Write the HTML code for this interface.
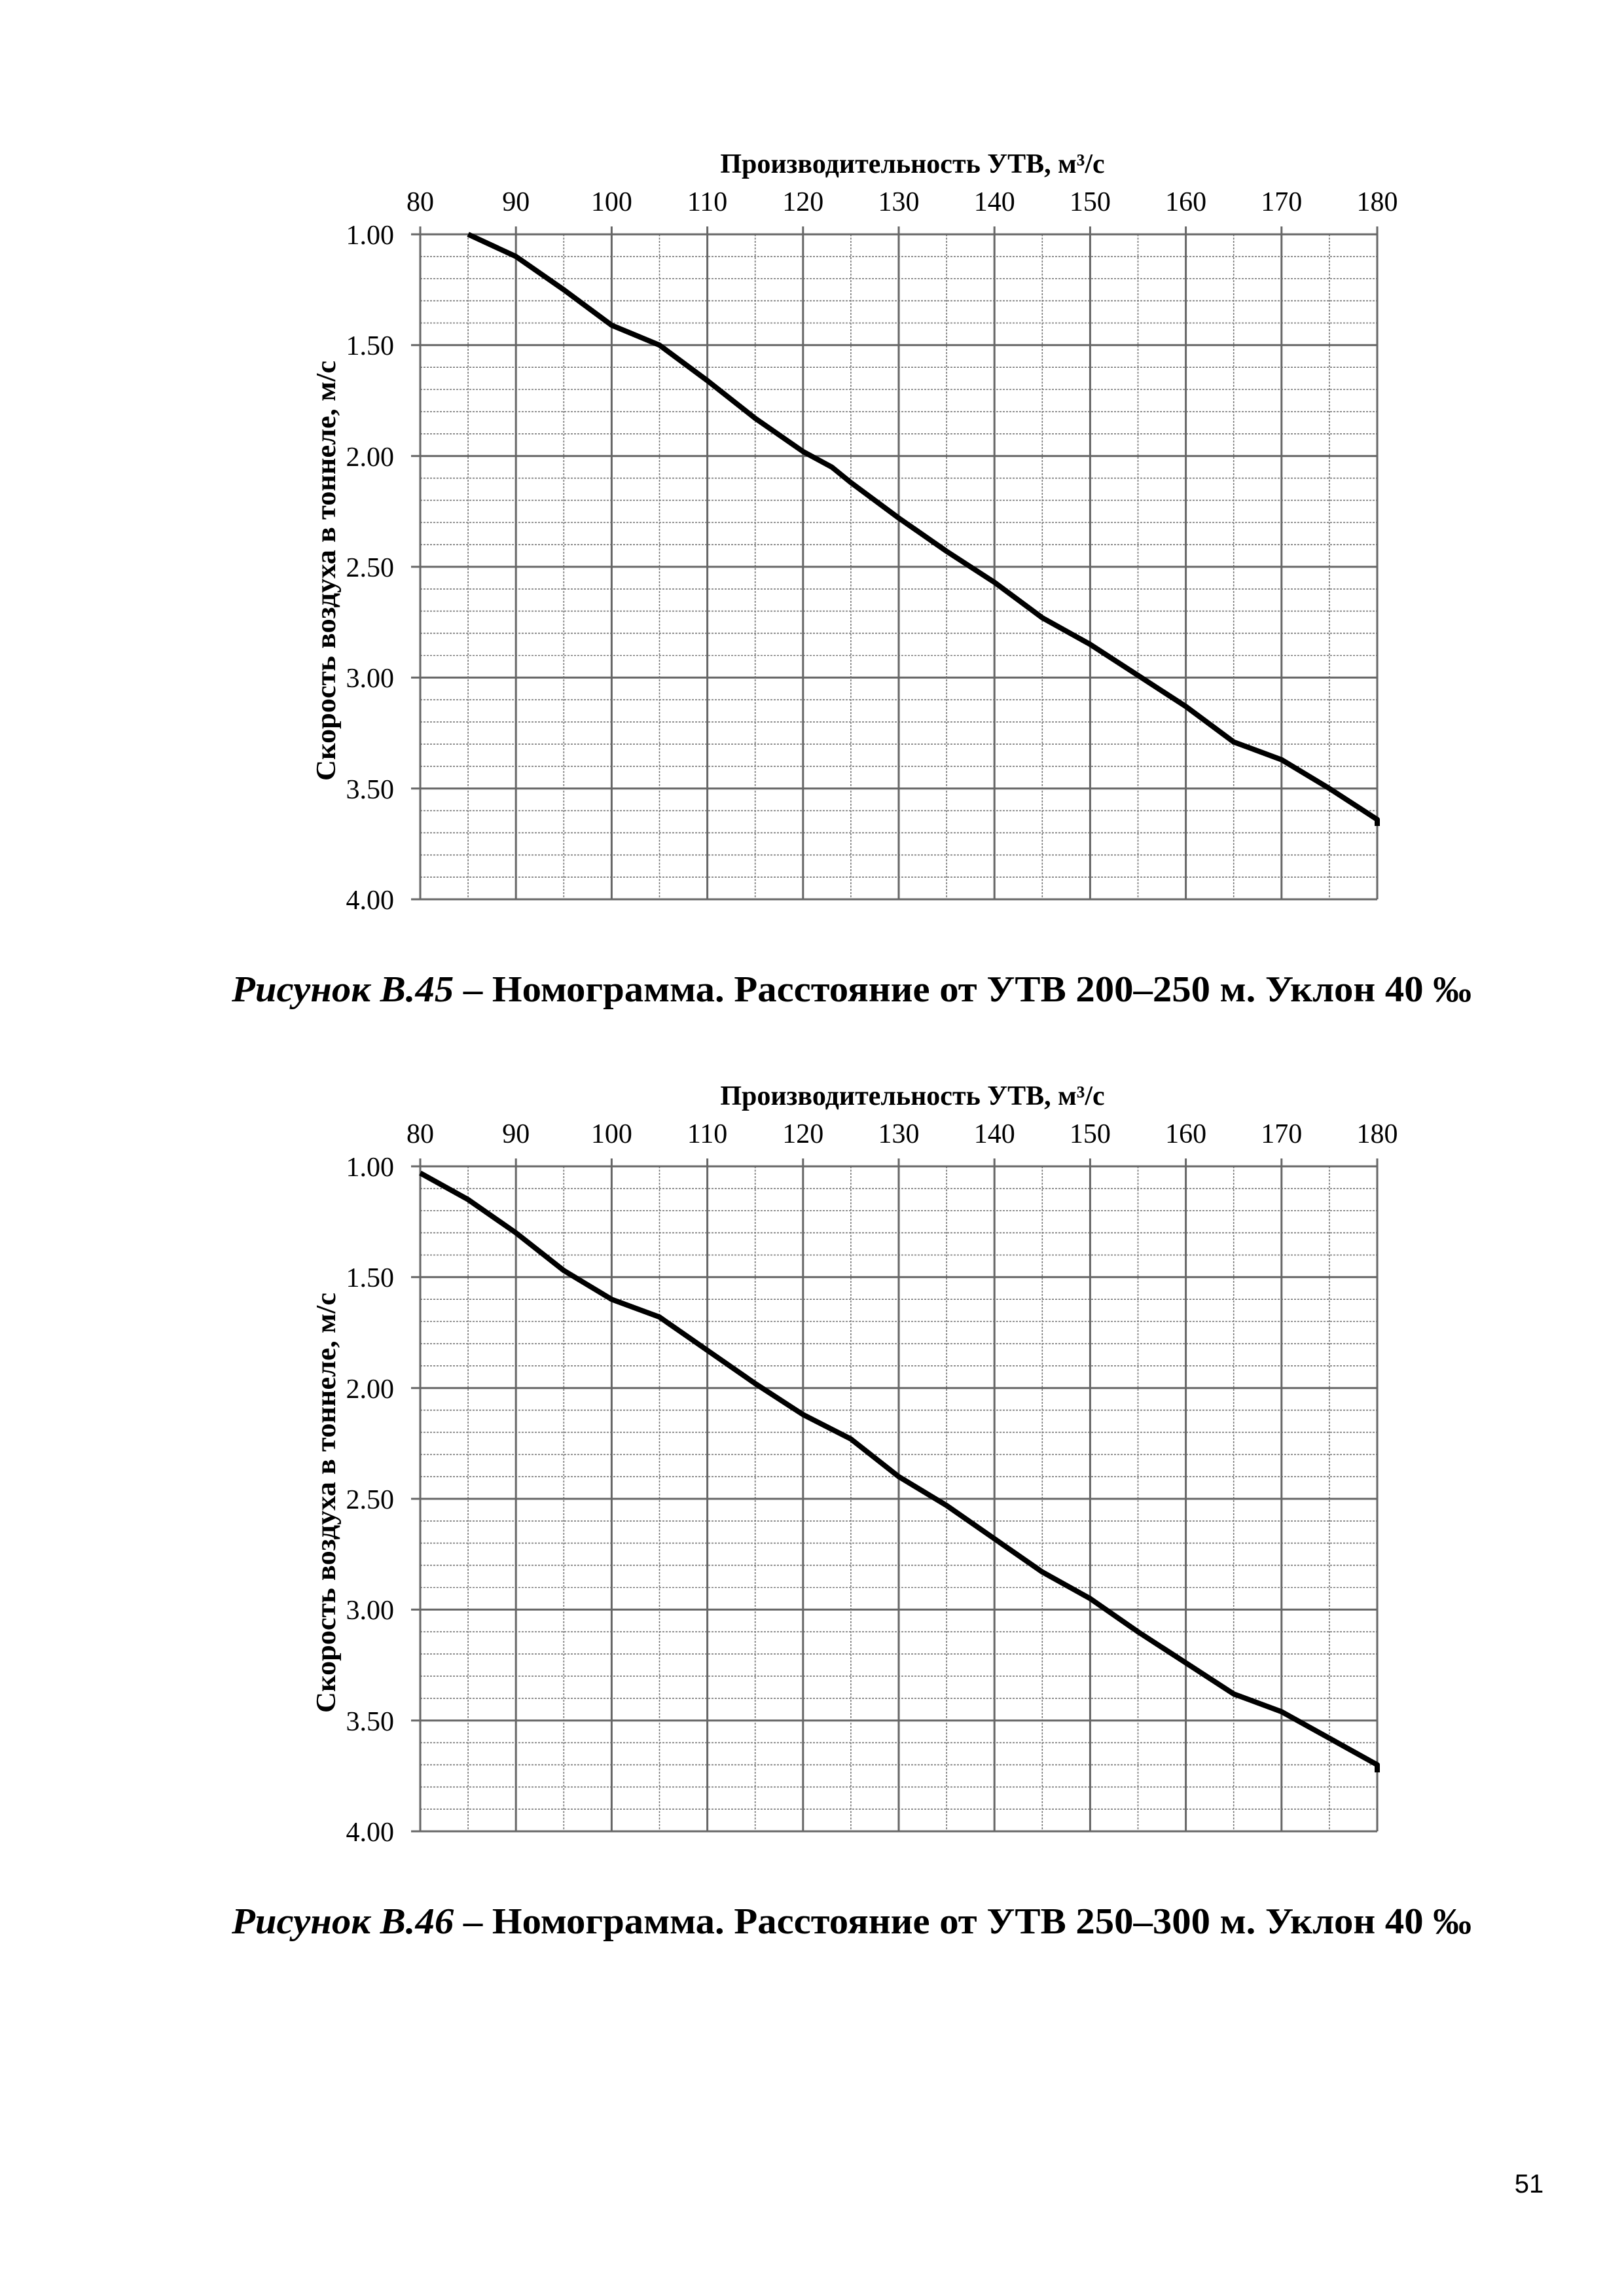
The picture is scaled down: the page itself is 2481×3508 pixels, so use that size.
<!DOCTYPE html>
<html><head><meta charset="utf-8"><style>
html,body{margin:0;padding:0;background:#fff}
svg{display:block}
</style></head><body>
<svg width="2481" height="3508" viewBox="0 0 2481 3508" xmlns="http://www.w3.org/2000/svg">
<rect width="2481" height="3508" fill="#fff"/>
<defs>
<g id="grid">
<path fill="none" stroke="#777" stroke-width="1.6" stroke-dasharray="3,2" d="M715.1 358V1374M861.3 358V1374M1007.5 358V1374M1153.7 358V1374M1299.9 358V1374M1446.1 358V1374M1592.3 358V1374M1738.5 358V1374M1884.7 358V1374M2030.9 358V1374
M642 391.9H2104M642 425.7H2104M642 459.6H2104M642 493.5H2104
M642 561.2H2104M642 595H2104M642 628.9H2104M642 662.8H2104
M642 730.6H2104M642 764.4H2104M642 798.3H2104M642 832.2H2104
M642 899.9H2104M642 933.7H2104M642 967.6H2104M642 1001.5H2104
M642 1069.2H2104M642 1103.1H2104M642 1136.9H2104M642 1170.8H2104
M642 1238.6H2104M642 1272.4H2104M642 1306.3H2104M642 1340.2H2104"/>
<path fill="none" stroke="#666" stroke-width="3" d="M642 346V1374M788.2 346V1374M934.4 346V1374M1080.6 346V1374M1226.8 346V1374M1373 346V1374M1519.2 346V1374M1665.4 346V1374M1811.6 346V1374M1957.8 346V1374M2104 346V1374
M628 358H2104M628 527.3H2104M628 696.7H2104M628 866H2104M628 1035.3H2104M628 1204.7H2104M628 1374H2104"/>
</g>
</defs>
<use href="#grid"/>
<use href="#grid" y="1424"/>

<g font-family="'Liberation Serif', serif" fill="#000">
<text x="1394" y="264" font-size="42" font-weight="bold" text-anchor="middle">Производительность УТВ, м³/с</text>
<g font-size="42" text-anchor="middle">
<text x="642" y="322">80</text><text x="788.2" y="322">90</text><text x="934.4" y="322">100</text><text x="1080.6" y="322">110</text><text x="1226.8" y="322">120</text><text x="1373" y="322">130</text><text x="1519.2" y="322">140</text><text x="1665.4" y="322">150</text><text x="1811.6" y="322">160</text><text x="1957.8" y="322">170</text><text x="2104" y="322">180</text>
</g>
<g font-size="42" text-anchor="end">
<text x="602" y="373">1.00</text><text x="602" y="542">1.50</text><text x="602" y="712">2.00</text><text x="602" y="881">2.50</text><text x="602" y="1050">3.00</text><text x="602" y="1220">3.50</text><text x="602" y="1389">4.00</text>
</g>
<text transform="translate(512,872) rotate(-90)" font-size="42" font-weight="bold" text-anchor="middle" textLength="642" lengthAdjust="spacingAndGlyphs">Скорость воздуха в тоннеле, м/с</text>
<text x="354" y="1530" font-size="56" font-weight="bold" textLength="1894" lengthAdjust="spacingAndGlyphs"><tspan font-style="italic">Рисунок В.45</tspan> – Номограмма. Расстояние от УТВ 200–250 м. Уклон 40 ‰</text>

<text x="1394" y="1688" font-size="42" font-weight="bold" text-anchor="middle">Производительность УТВ, м³/с</text>
<g font-size="42" text-anchor="middle">
<text x="642" y="1746">80</text><text x="788.2" y="1746">90</text><text x="934.4" y="1746">100</text><text x="1080.6" y="1746">110</text><text x="1226.8" y="1746">120</text><text x="1373" y="1746">130</text><text x="1519.2" y="1746">140</text><text x="1665.4" y="1746">150</text><text x="1811.6" y="1746">160</text><text x="1957.8" y="1746">170</text><text x="2104" y="1746">180</text>
</g>
<g font-size="42" text-anchor="end">
<text x="602" y="1797">1.00</text><text x="602" y="1966">1.50</text><text x="602" y="2136">2.00</text><text x="602" y="2305">2.50</text><text x="602" y="2474">3.00</text><text x="602" y="2644">3.50</text><text x="602" y="2813">4.00</text>
</g>
<text transform="translate(512,2296) rotate(-90)" font-size="42" font-weight="bold" text-anchor="middle" textLength="642" lengthAdjust="spacingAndGlyphs">Скорость воздуха в тоннеле, м/с</text>
<text x="354" y="2954" font-size="56" font-weight="bold" textLength="1894" lengthAdjust="spacingAndGlyphs"><tspan font-style="italic">Рисунок В.46</tspan> – Номограмма. Расстояние от УТВ 250–300 м. Уклон 40 ‰</text>
</g>

<text x="2336" y="3350" font-family="'Liberation Sans', sans-serif" font-size="40" text-anchor="middle">51</text>

<polyline fill="none" stroke="#000" stroke-width="8" stroke-linejoin="round" points="715.1,358 788.2,391.9 861.3,442.7 934.4,496.9 1007.5,527.3 1080.6,581.5 1153.7,639.1 1226.8,689.9 1270.7,713.6 1299.9,737.3 1373,791.5 1446.1,842.3 1519.2,889.7 1592.3,943.9 1665.4,984.5 1738.5,1031.9 1811.6,1079.4 1884.7,1133.6 1957.8,1160.7 2030.9,1204.7 2104,1252.1 2104,1262"/>
<polyline fill="none" stroke="#000" stroke-width="8" stroke-linejoin="round" points="642,1792.2 715.1,1832.8 788.2,1883.6 861.3,1941.2 934.4,1985.2 1007.5,2012.3 1080.6,2063.1 1153.7,2113.9 1226.8,2161.3 1299.9,2198.6 1373,2256.1 1446.1,2300.2 1519.2,2351 1592.3,2401.8 1665.4,2442.4 1738.5,2493.2 1811.6,2540.6 1884.7,2588.1 1957.8,2615.2 2030.9,2655.8 2104,2696.4 2104,2708"/>
</svg>
</body></html>
